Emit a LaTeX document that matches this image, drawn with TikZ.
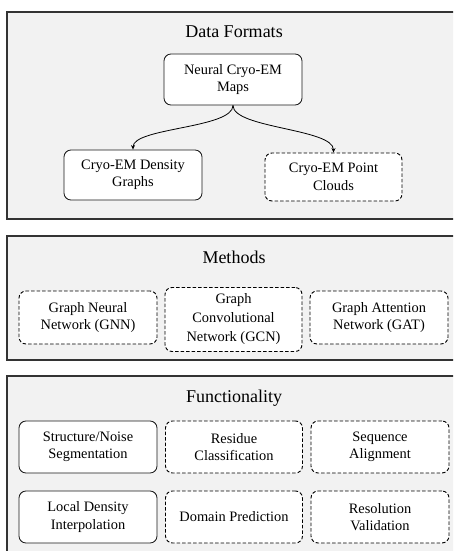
\documentclass[tikz,border=0pt]{standalone}
\usepackage{fontspec}
\setmainfont{Liberation Serif}
\usetikzlibrary{arrows.meta}
\definecolor{panelfill}{HTML}{F2F2F2}
\definecolor{panelline}{HTML}{333333}
\tikzset{
  panel/.style={draw=panelline, line width=1.1pt, fill=panelfill},
  title/.style={font=\fontsize{18}{21}\selectfont, inner sep=0pt},
  box/.style={draw=black!90, line width=0.85pt, fill=white, rounded corners=7pt,
    align=center, font=\fontsize{14.4}{17.5}\selectfont, inner sep=0pt},
  dbox/.style={box, draw=black, line width=0.9pt, dash pattern=on 3.5pt off 2pt},
  link/.style={line width=0.8pt, -{Stealth[length=4.5pt,width=4pt]}}
}
\begin{document}
\begin{tikzpicture}[x=1pt,y=-1pt]
\useasboundingbox (0,0) rectangle (453,551);
\fill[white] (0,0) rectangle (453,551);
\clip (0,0) rectangle (453,551);
% panels
\draw[panel] (7,12) rectangle (462,219);
\draw[panel] (7,236) rectangle (462,360);
\draw[panel] (7,376) rectangle (462,565);
% Data formats
\node[title] (t1) at (234,32) {Data Formats};
\node[box, minimum width=138pt, minimum height=51pt] (neural) at (233,79.5) {Neural Cryo-EM\\Maps};
\node[box, minimum width=138pt, minimum height=50pt] (dens) at (133,175) {Cryo-EM Density\\Graphs};
\node[dbox, minimum width=137pt, minimum height=48pt] (point) at (333.5,177) {Cryo-EM Point\\Clouds};
\draw[link] (neural.south) .. controls +(0,23) and +(0,-22) .. (dens.north);
\draw[link] (neural.south) .. controls +(0,23) and +(0,-24) .. (point.north);
% Methods
\node[title] (t2) at (234,257) {Methods};
\node[dbox, minimum width=138pt, minimum height=53pt] (gnn) at (88,317.5) {Graph Neural\\Network (GNN)};
\node[dbox, minimum width=137pt, minimum height=64pt, font=\fontsize{14.4}{19}\selectfont] (gcn) at (233.5,319.5) {Graph\\Convolutional\\Network (GCN)};
\node[dbox, minimum width=138pt, minimum height=53pt] (gat) at (379,317.5) {Graph Attention\\Network (GAT)};
% Functionality
\node[title] (t3) at (234,398) {Functionality};
\node[box, minimum width=138pt, minimum height=52pt] (seg) at (88,447) {Structure/Noise\\Segmentation};
\node[dbox, minimum width=137pt, minimum height=52pt] (res) at (234,447) {Residue\\Classification};
\node[dbox, minimum width=138pt, minimum height=52pt] (seq) at (380,447) {Sequence\\Alignment};
\node[box, minimum width=138pt, minimum height=52pt] (loc) at (88,517) {Local Density\\Interpolation};
\node[dbox, minimum width=137pt, minimum height=52pt] (dom) at (234,517) {Domain Prediction};
\node[dbox, minimum width=138pt, minimum height=52pt] (resv) at (380,517) {Resolution\\Validation};
\end{tikzpicture}
\end{document}
